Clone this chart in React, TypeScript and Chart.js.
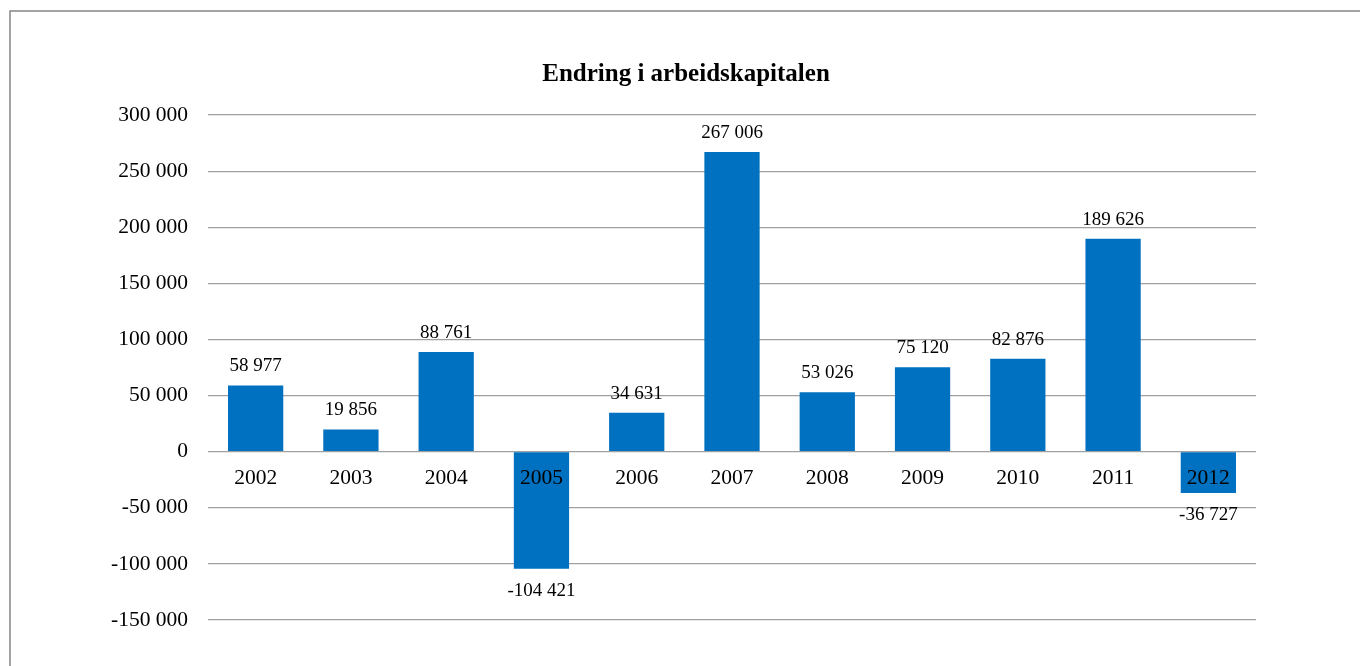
import React, { useEffect, useRef } from "react";
import { Chart, registerables } from "chart.js";

Chart.register(...registerables);

const categories = ["2002", "2003", "2004", "2005", "2006", "2007", "2008", "2009", "2010", "2011", "2012"];
const values = [58977, 19856, 88761, -104421, 34631, 267006, 53026, 75120, 82876, 189626, -36727];
const chartTitle = "Endring i arbeidskapitalen";
const yMin = -150000;
const yMax = 300000;
const yStep = 50000;

const FONT = "'Liberation Serif', 'Times New Roman', serif";

function fmt(v: number): string {
  const s = Math.abs(Math.round(v)).toString().replace(/\B(?=(\d{3})+(?!\d))/g, " ");
  return (v < 0 ? "-" : "") + s;
}

const framePlugin = {
  id: "frame",
  beforeDraw(chart: any) {
    const ctx = chart.ctx;
    ctx.save();
    ctx.fillStyle = "#ffffff";
    ctx.fillRect(0, 0, chart.width, chart.height);
    ctx.strokeStyle = "#878787";
    ctx.lineWidth = 1.5;
    ctx.strokeRect(10, 11, chart.width + 20, chart.height + 20);
    ctx.font = `bold 25px ${FONT}`;
    ctx.fillStyle = "#000000";
    ctx.textAlign = "center";
    ctx.textBaseline = "middle";
    ctx.fillText(chartTitle, 686, 75);
    ctx.restore();
  },
};

const labelPlugin = {
  id: "barLabels",
  afterDatasetsDraw(chart: any) {
    const ctx = chart.ctx;
    const meta = chart.getDatasetMeta(0);
    const data = chart.data.datasets[0].data as number[];
    ctx.save();
    ctx.font = `19px ${FONT}`;
    ctx.fillStyle = "#000000";
    ctx.textAlign = "center";
    ctx.textBaseline = "alphabetic";
    meta.data.forEach((bar: any, i: number) => {
      const v = data[i];
      const y = v >= 0 ? bar.y - 14 : bar.y + 27;
      ctx.fillText(fmt(v), bar.x, y);
    });
    ctx.restore();
  },
};

export default function App() {
  const ref = useRef<HTMLCanvasElement>(null);
  useEffect(() => {
    if (!ref.current) return;
    const chart = new Chart(ref.current, {
      type: "bar",
      data: {
        labels: categories,
        datasets: [
          {
            data: values,
            backgroundColor: "#0070C0",
            borderWidth: 0,
            barPercentage: 0.58,
            categoryPercentage: 1,
          },
        ],
      },
      options: {
        animation: false,
        responsive: false,
        maintainAspectRatio: false,
        layout: { padding: { left: 0, top: 115, right: 104, bottom: 46 } },
        plugins: {
          legend: { display: false },
          tooltip: { enabled: false },
          title: { display: false },
        },
        scales: {
          x: {
            position: { y: 0 } as any,
            grid: { display: false, drawTicks: false },
            border: { display: false },
            ticks: {
              z: 1,
              color: "#000000",
              font: { family: FONT, size: 21.5 },
              padding: 14,
              maxRotation: 0,
              autoSkip: false,
            },
          },
          y: {
            min: yMin,
            max: yMax,
            grid: { color: "#a0a0a0", lineWidth: 1.2, drawTicks: false },
            border: { display: false },
            afterFit: (scale: any) => {
              scale.width = 208;
            },
            ticks: {
              stepSize: yStep,
              color: "#000000",
              font: { family: FONT, size: 21.5 },
              padding: 20,
              callback: (v: any) => fmt(Number(v)),
            },
          },
        },
      },
      plugins: [framePlugin, labelPlugin],
    });
    return () => chart.destroy();
  }, []);
  return (
    <div style={{ position: "absolute", left: 0, top: 0, width: 1360, height: 666, overflow: "hidden" }}>
      <canvas ref={ref} width={1360} height={666} style={{ display: "block" }} />
    </div>
  );
}
